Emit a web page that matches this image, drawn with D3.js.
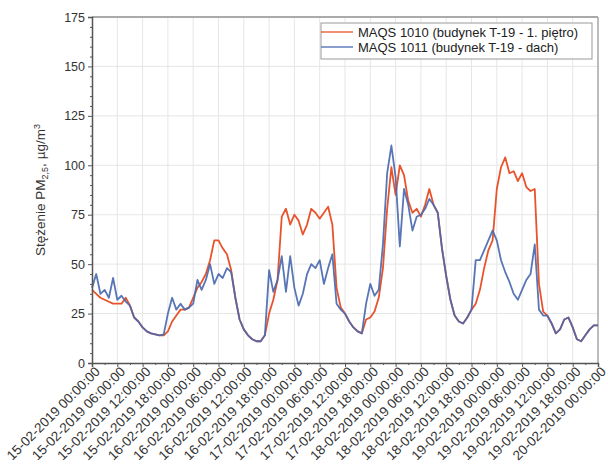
<!DOCTYPE html>
<html><head><meta charset="utf-8">
<script src="https://cdn.jsdelivr.net/npm/d3@7"></script>
<style>body{margin:0;background:#fff;} text{font-family:"Liberation Sans",Arial,sans-serif;}</style>
</head><body>
<svg id="chart" width="608" height="475"></svg>
<script>
// Hourly readings, 15-02-2019 00:00 to 20-02-2019 00:00
const startTime = "2019-02-15T00:00:00";
const hoursCount = 121;
const seriesNames = ["MAQS 1010 (budynek T-19 - 1. piętro)", "MAQS 1011 (budynek T-19 - dach)"];
const maqs1010 = [37,35,33,32,31,30,30,30,33,29,23,21,18,16,15,14.5,14,14,16,21,24,27,27,28,
  33,38,41,45,52,62,62,58,55,47,33,22,17,14,12,11,11,14,25,32,42,74,78,70,
  75,72,65,70,78,76,73,76,79,70,38,28,25,21,18,16,15,22,23,26,33,48,78,99,
  85,100,95,82,76,78,74,80,88,80,76,58,44,32,24,21,20,23,27,30,37,48,57,62,
  88,99,104,96,97,92,96,89,87,88,40,26,24,20,15,17,22,23,18,12,11,14,17,19,19];
const maqs1011 = [38,45,35,37,33,43,32,34,31,29,23,21,18,16,15,14.5,14,14.5,25,33,27,30,27,28,
  30,42,37,42,50,40,45,43,48,46,33,22,17,14,12,11,11,14,47,36,42,54,36,54,
  38,29,35,45,50,48,52,40,48,55,30,27,25,21,18,16,15,30,40,34,37,60,96,110,
  94,59,88,80,67,74,75,78,83,80,76,58,44,32,24,21,20,23,27,52,52,57,62,67,
  62,52,46,41,35,32,37,42,45,60,27,24,24,20,15,17,22,23,18,12,11,14,17,19,19];
const yTicks = [0,25,50,75,100,125,150,175];
const yTitle = ["Stężenie PM", "2,5", ", µg/m", "3"];

const svg = d3.select("#chart");
const m = {l:92, r:598, t:17, b:363};
const t0 = new Date(startTime);
const times = d3.range(hoursCount).map(h => new Date(t0.getTime() + h*3600e3));
const x = d3.scaleTime().domain([t0, times[times.length-1]]).range([m.l, m.r]);
const y = d3.scaleLinear().domain([0,175]).range([m.b, m.t]);

const xMajor = d3.timeHour.every(6).range(t0, new Date(times[times.length-1].getTime()+1));
const xMinor = d3.timeHour.every(3).range(t0, new Date(times[times.length-1].getTime()+1));

// grid
svg.append("g").selectAll("line").data(xMajor.slice(1)).join("line")
  .attr("x1", d=>x(d)).attr("x2", d=>x(d)).attr("y1", m.t).attr("y2", m.b)
  .attr("stroke", "#e6e6e6").attr("stroke-width", 1);
svg.append("g").selectAll("line").data(yTicks.slice(1)).join("line")
  .attr("x1", m.l).attr("x2", m.r).attr("y1", d=>y(d)).attr("y2", d=>y(d))
  .attr("stroke", "#e6e6e6").attr("stroke-width", 1);

// top & right frame
svg.append("line").attr("x1", m.l).attr("x2", m.r).attr("y1", m.t).attr("y2", m.t).attr("stroke", "#aaa").attr("stroke-width", 2);
svg.append("line").attr("x1", m.r).attr("x2", m.r).attr("y1", m.t).attr("y2", m.b).attr("stroke", "#aaa").attr("stroke-width", 1.5);

// lines
const line = d3.line().x((d,i)=>x(times[i])).y(d=>y(d));
svg.append("path").datum(maqs1010).attr("d", line).attr("fill","none").attr("stroke","#e8532b").attr("stroke-width",1.8).attr("stroke-linejoin","round");
svg.append("path").datum(maqs1011).attr("d", line).attr("fill","none").attr("stroke","#4a69b0").attr("stroke-width",1.8).attr("stroke-linejoin","round").attr("opacity",0.92);

// y axis
const yAxis = svg.append("g").attr("transform", `translate(${m.l},0)`)
  .call(d3.axisLeft(y).tickValues(yTicks).tickSize(4).tickPadding(3));
yAxis.select(".domain").attr("stroke","#555").attr("stroke-width",1.5);
yAxis.selectAll(".tick line").attr("stroke","#555");
yAxis.selectAll("text").attr("font-size", 12.5).attr("fill","#333").attr("font-family","Liberation Sans, Arial");
svg.append("g").attr("transform", `translate(${m.l},0)`)
  .call(d3.axisLeft(y).tickValues(d3.range(0,176,5).filter(v=>v%25)).tickSize(2).tickFormat(""))
  .call(g=>g.select(".domain").remove()).selectAll("line").attr("stroke","#555");

// x axis
const xAxis = svg.append("g").attr("transform", `translate(0,${m.b})`)
  .call(d3.axisBottom(x).tickValues(xMajor).tickSize(4).tickFormat(d3.timeFormat("%d-%m-%Y %H:%M:%S")));
xAxis.select(".domain").attr("stroke","#555").attr("stroke-width",1.5);
xAxis.selectAll(".tick line").attr("stroke","#555");
xAxis.selectAll("text").attr("font-size", 13.5).attr("fill","#333")
  .attr("text-anchor","end").attr("dy", "0.35em")
  .attr("transform", "translate(5,6) rotate(-45)").attr("x",0).attr("y",0);
svg.append("g").attr("transform", `translate(0,${m.b})`)
  .call(d3.axisBottom(x).tickValues(xMinor.filter(d=>d.getHours()%6)).tickSize(2).tickFormat(""))
  .call(g=>g.select(".domain").remove()).selectAll("line").attr("stroke","#555");

// y title
const yt = svg.append("text").attr("transform", `translate(45,${(m.t+m.b)/2}) rotate(-90)`)
  .attr("text-anchor","middle").attr("font-size", 13.5).attr("fill","#333");
yt.append("tspan").text(yTitle[0]);
yt.append("tspan").attr("font-size", 9).attr("dy", 3).text(yTitle[1]);
yt.append("tspan").attr("dy", -3).text(yTitle[2]);
yt.append("tspan").attr("font-size", 9).attr("dy", -5).text(yTitle[3]);

// legend
const lg = svg.append("g");
lg.append("rect").attr("x",321).attr("y",23).attr("width",271).attr("height",36)
  .attr("fill","#fff").attr("stroke","#999").attr("stroke-width",1);
const colors = ["#e8532b","#4a69b0"];
seriesNames.forEach((n,i)=>{
  const yy = 32 + i*15;
  lg.append("line").attr("x1",321).attr("x2",353).attr("y1",yy).attr("y2",yy).attr("stroke",colors[i]).attr("stroke-width",1.3);
  lg.append("text").attr("x",358).attr("y",yy).attr("dy","0.35em").attr("font-size",13).attr("fill","#222").text(n);
});
</script>
</body></html>
